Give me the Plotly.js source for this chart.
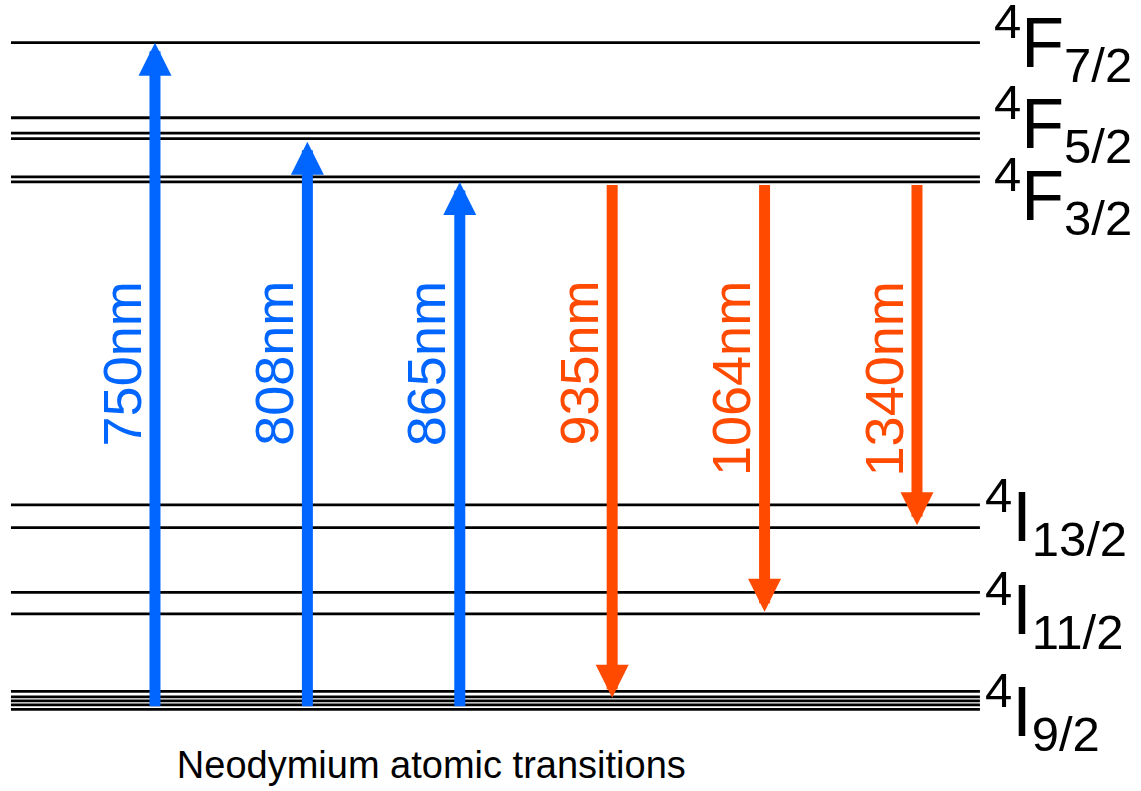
<!DOCTYPE html>
<html>
<head>
<meta charset="utf-8">
<script src="https://cdn.plot.ly/plotly-3.0.1.min.js"></script>
<style>
html,body{margin:0;padding:0;background:#ffffff;}
#chart{width:1141px;height:791px;}
</style>
</head>
<body>
<div id="chart"></div>
<script>
// ---- Data (energies in 10^3 cm^-1) ----
const levelNames  = ['4I9/2', '4I11/2', '4I13/2', '4F3/2', '4F5/2', '4F7/2'];
const levelLabels = ['<sup>4</sup>I<sub>9/2</sub>', '<sup>4</sup>I<sub>11/2</sub>', '<sup>4</sup>I<sub>13/2</sub>',
                     '<sup>4</sup>F<sub>3/2</sub>', '<sup>4</sup>F<sub>5/2</sub>', '<sup>4</sup>F<sub>7/2</sub>'];
const sublevels = [
  [0.00, 0.09, 0.17, 0.25, 0.36],
  [1.92, 2.35],
  [3.65, 4.11],
  [10.60, 10.70],
  [11.47, 11.58, 11.89],
  [13.40]
];
const transitions  = ['750nm', '808nm', '865nm', '935nm', '1064nm', '1340nm'];
const arrowStart   = [0.00, 0.00, 0.00, 10.60, 10.60, 10.60];
const arrowEnd     = [13.40, 11.41, 10.60, 0.23, 1.96, 3.70];
const title = 'Neodymium atomic transitions';

// ---- Styling / placement ----
const BLUE = '#0066ff', RED = '#ff4a00';
const X_LEFT = -0.945, X_RIGHT = 5.413;
const labelYShift = [-12, -7, -1, -17, 4, 0];
const labelXShift = [3, 3, 3, 12, 12, 12];

const traces = sublevels.map((levels, k) => {
  const xs = [], ys = [];
  levels.forEach(e => { xs.push(X_LEFT, X_RIGHT, null); ys.push(e, e, null); });
  return {type: 'scatter', mode: 'lines', x: xs, y: ys, name: levelNames[k],
          line: {color: '#000000', width: 2.8}, hoverinfo: 'skip', showlegend: false};
});

const annotations = [];
transitions.forEach((t, i) => {
  const up = arrowEnd[i] > arrowStart[i];
  const col = up ? BLUE : RED;
  annotations.push({
    x: i, y: arrowEnd[i], ax: i, ay: arrowStart[i], xref: 'x', yref: 'y', axref: 'x', ayref: 'y',
    text: ' ', font: {size: 2}, showarrow: true, arrowhead: 2, arrowsize: 0.6, arrowwidth: 11,
    arrowcolor: col, standoff: 0, startstandoff: 0
  });
  annotations.push({
    x: i, y: 10.60, xref: 'x', yref: 'y', text: t, showarrow: false, textangle: -90,
    xanchor: 'center', yanchor: 'top', xshift: -33, yshift: -97,
    font: {family: 'Liberation Sans, Arial, sans-serif', size: 54, color: col}
  });
});
levelLabels.forEach((lab, k) => {
  const lv = sublevels[k];
  const mean = (Math.min(...lv) + Math.max(...lv)) / 2;
  annotations.push({
    x: X_RIGHT, y: mean, xref: 'x', yref: 'y', text: lab, showarrow: false,
    xanchor: 'left', yanchor: 'middle', xshift: labelXShift[k], yshift: labelYShift[k],
    font: {family: 'Liberation Sans, Arial, sans-serif', size: 70, color: '#000000'}
  });
});

const layout = {
  width: 1141, height: 791,
  margin: {l: 0, r: 0, t: 0, b: 0},
  paper_bgcolor: '#ffffff', plot_bgcolor: '#ffffff',
  showlegend: false,
  title: {text: title, x: 0.378, xanchor: 'center', xref: 'paper', yref: 'container', y: 0.017, yanchor: 'bottom',
          font: {family: 'Liberation Sans, Arial, sans-serif', size: 38, color: '#000000'}},
  xaxis: {range: [-1.017, 6.470], visible: false, fixedrange: true},
  yaxis: {range: [-1.642, 14.257], visible: false, fixedrange: true},
  annotations: annotations
};

Plotly.newPlot('chart', traces, layout, {staticPlot: true, displayModeBar: false});
</script>
</body>
</html>
